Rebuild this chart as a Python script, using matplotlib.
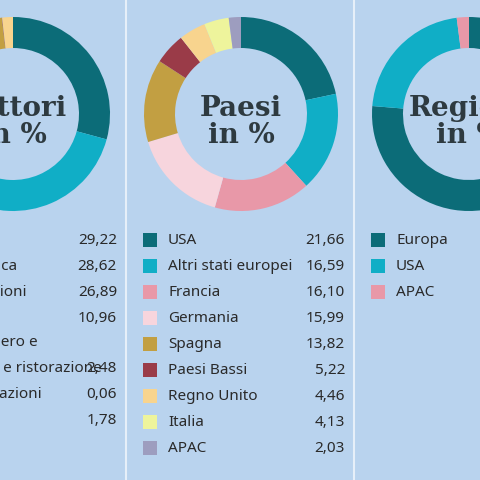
import matplotlib
matplotlib.use("Agg")
import matplotlib.pyplot as plt
from matplotlib.patches import Rectangle

bg = "#b9d3ee"
settori_labels = ["Finanza", "Elettronica", "Applicazioni", "Salute", "Alberghiero e\nTurismo e ristorazione", "Partecipazioni", "Altro"]
settori_values = [29.22, 28.62, 26.89, 10.96, 2.48, 0.06, 1.78]
paesi_labels = ["USA", "Altri stati europei", "Francia", "Germania", "Spagna", "Paesi Bassi", "Regno Unito", "Italia", "APAC"]
paesi_values = [21.66, 16.59, 16.10, 15.99, 13.82, 5.22, 4.46, 4.13, 2.03]
regioni_labels = ["Europa", "USA", "APAC"]
regioni_values = [76.31, 21.66, 2.03]

pal = ["#0c6c78", "#10aec6", "#e898a8", "#f7d5dd", "#c29f42", "#9a3b48", "#f8d48e", "#eef49c", "#9d9dbf"]
settori_colors = ["#0c6c78", "#10aec6", "#e898a8", "#f7d5dd", "#c29f42", "#9a3b48", "#f8d48e"]
regioni_colors = ["#0c6c78", "#10aec6", "#e898a8"]

fig = plt.figure(figsize=(4.8, 4.8), dpi=100, facecolor=bg)
ax = fig.add_axes([0, 0, 1, 1])
ax.set_xlim(0, 480); ax.set_ylim(480, 0); ax.set_aspect("equal"); ax.axis("off")
ax.set_facecolor(bg)

for xs in (126, 354):
    ax.plot([xs, xs], [0, 480], color="#e6eff9", lw=1.5)

txt = dict(fontsize=11, family="Noto Sans", color="#2a2a2a")
panels = [
    (13, "Settori\nin %", settori_labels, settori_values, settori_colors),
    (241, "Paesi\nin %", paesi_labels, paesi_values, pal),
    (469, "Regioni\nin %", regioni_labels, regioni_values, regioni_colors),
]
for cx, title, labels, vals, cols in panels:
    ax.pie(vals, colors=cols, center=(cx, 114), radius=97, startangle=-90,
           counterclock=True, wedgeprops=dict(width=31, linewidth=0), frame=True)
    ax.text(cx, 122, title, ha="center", va="center", fontsize=20, fontweight="bold",
            family="DejaVu Serif", color="#2e3a40", linespacing=1.0)
    y = 240
    for lab, v, c in zip(labels, vals, cols):
        lines = lab.split("\n")
        if len(lines) == 2:
            y -= 1
            ax.add_patch(Rectangle((cx - 98, y + 5), 14, 14, color=c, lw=0))
            ax.text(cx - 73, y, lines[0], ha="left", va="center", **txt)
            ax.text(cx - 73, y + 25, lines[1], ha="left", va="center", **txt)
            vy = y + 25
            y += 25
        else:
            ax.add_patch(Rectangle((cx - 98, y - 7), 14, 14, color=c, lw=0))
            ax.text(cx - 73, y, lab, ha="left", va="center", **txt)
            vy = y
        if cx != 469:
            ax.text(cx + 104, vy, f"{v:.2f}".replace(".", ","), ha="right", va="center", **txt)
        y += 26
ax.set_xlim(0, 480); ax.set_ylim(480, 0)
fig.savefig("out.png", dpi=100, facecolor=bg)
